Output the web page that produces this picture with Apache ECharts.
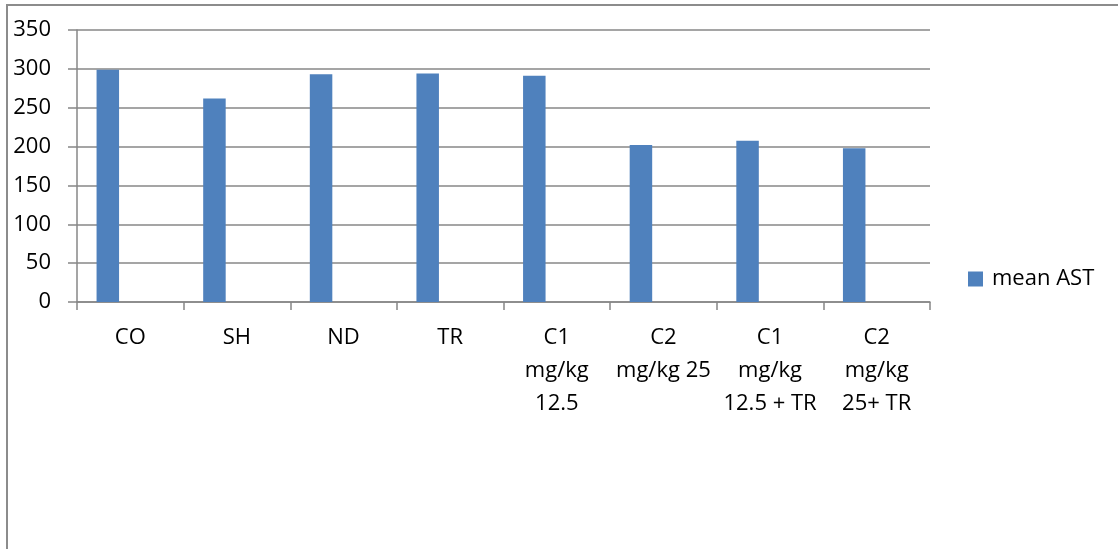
<!DOCTYPE html>
<html>
<head>
<meta charset="utf-8">
<script src="https://cdn.jsdelivr.net/npm/echarts@6/dist/echarts.min.js"></script>
<style>
html,body{margin:0;padding:0;background:#fff;}
#chart{width:1118px;height:549px;}
</style>
</head>
<body>
<div id="chart"></div>
<script>
const categories = ["CO", "SH", "ND", "TR", "C1\nmg/kg\n12.5", "C2\nmg/kg 25", "C1\nmg/kg\n12.5 + TR", "C2\nmg/kg\n25+ TR"];
const meanAST = [299, 262, 293, 294, 291, 202, 207.5, 198];
const emptySlot = [null, null, null, null, null, null, null, null];
const yTicks = {min: 0, max: 350, interval: 50};

const FONT = "'Open Sans', sans-serif";
const GRAY = '#878787';

const chart = echarts.init(document.getElementById('chart'), null, {renderer: 'canvas'});
chart.setOption({
  animation: false,
  backgroundColor: '#fff',
  graphic: [{
    type: 'rect',
    shape: {x: 7, y: 5, width: 1300, height: 800},
    style: {fill: 'none', stroke: '#8c8c8c', lineWidth: 2},
    silent: true,
    z: 100
  }],
  grid: {left: 77, right: 188, top: 30, bottom: 247, containLabel: false, outerBoundsMode: 'none'},
  legend: {
    data: ['mean AST'],
    left: 963, top: 263,
    icon: 'rect', itemWidth: 15, itemHeight: 15,
    textStyle: {fontFamily: FONT, fontSize: 22, color: '#000', padding: [0, 0, 0, 4]}
  },
  xAxis: {
    type: 'category',
    data: categories,
    axisLine: {lineStyle: {color: GRAY, width: 1.5}},
    axisTick: {show: true, length: 8, lineStyle: {color: GRAY, width: 1.5}},
    axisLabel: {fontFamily: FONT, fontSize: 22, color: '#000', lineHeight: 33, margin: 19, interval: 0}
  },
  yAxis: {
    type: 'value',
    min: yTicks.min, max: yTicks.max, interval: yTicks.interval,
    axisLine: {show: true, lineStyle: {color: GRAY, width: 1.5}},
    axisTick: {show: true, length: 9, lineStyle: {color: GRAY, width: 1.5}},
    splitLine: {show: true, lineStyle: {color: GRAY, width: 1.5}},
    axisLabel: {fontFamily: FONT, fontSize: 22, color: '#000', margin: 26}
  },
  series: [
    {name: 'mean AST', type: 'bar', data: meanAST, barWidth: 22.5, barGap: '100%',
     itemStyle: {color: '#4F81BD'}},
    {name: 'pad', type: 'bar', data: emptySlot, barWidth: 22.5, barGap: '100%',
     itemStyle: {color: 'rgba(0,0,0,0)'}}
  ]
});
</script>
</body>
</html>
